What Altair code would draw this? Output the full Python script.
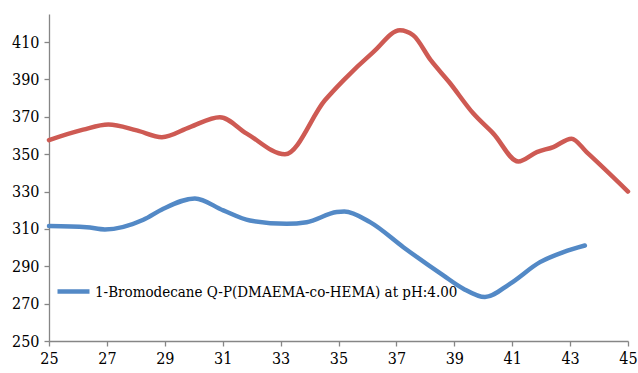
import altair as alt
import pandas as pd

blue_name = "1-Bromodecane Q-P(DMAEMA-co-HEMA) at pH:4.00"
red_name = "Series 2"

blue_x = [25.0, 26.3, 26.93, 28.26, 28.95, 30.04, 31.02, 31.94, 33.21, 33.9, 34.94, 35.2,
          36.09, 37.24, 38.62, 39.31, 40.06, 40.92, 41.96, 42.77, 43.51]
blue_y = [311.5, 310.9, 309.7, 314.9, 320.8, 326.3, 319.9, 314.5, 312.7, 313.6, 319.0, 319.3,
          313.6, 300.2, 285.1, 278.0, 273.5, 280.6, 292.2, 297.6, 301.1]

red_x = [25.0, 26.18, 27.05, 28.03, 28.9, 29.87, 30.9, 31.83, 33.15, 34.53, 35.17, 36.2,
         37.12, 37.58, 38.2, 38.82, 39.66, 40.35, 41.21, 41.85, 42.42, 43.05, 43.57, 45.0]
red_y = [357.5, 363.1, 365.8, 362.7, 359.1, 364.5, 369.8, 361.0, 349.9, 378.8, 389.5, 404.6,
         416.3, 413.6, 400.0, 388.6, 371.7, 361.0, 346.1, 351.1, 353.8, 358.3, 351.1, 330.0]

x_ticks = list(range(25, 46, 2))
y_ticks = list(range(250, 411, 20))

df = pd.concat([
    pd.DataFrame({"x": blue_x, "y": blue_y, "series": blue_name, "order": range(len(blue_x))}),
    pd.DataFrame({"x": red_x, "y": red_y, "series": red_name, "order": range(len(red_x))}),
])

SERIF = "DejaVu Serif Condensed, DejaVu Serif"

axis_common = dict(
    domainColor="#868686", tickColor="#868686", tickSize=5, grid=False,
    labelFont=SERIF, labelFontSize=16, labelColor="#000000",
    domainWidth=1.3, tickWidth=1.3,
)

chart = alt.Chart(df).mark_line(strokeWidth=4.5, interpolate="monotone", strokeCap="round").encode(
    x=alt.X("x:Q", scale=alt.Scale(domain=[25, 45], nice=False, zero=False),
            axis=alt.Axis(values=x_ticks, title=None, labelPadding=4, labelFlush=False, **axis_common)),
    y=alt.Y("y:Q", scale=alt.Scale(domain=[250, 425], nice=False, zero=False),
            axis=alt.Axis(values=y_ticks, title=None, labelPadding=5, **axis_common)),
    color=alt.Color("series:N",
                    scale=alt.Scale(domain=[blue_name, red_name], range=["#5389C6", "#CE5A53"]),
                    legend=alt.Legend(values=[blue_name], title=None, orient="none",
                                      legendX=6, legendY=259, symbolType="stroke",
                                      symbolSize=1024, symbolStrokeWidth=4.5,
                                      labelFont=SERIF, labelFontSize=15,
                                      labelColor="#000000", labelOffset=3, padding=0,
                                      labelLimit=600)),
    detail="series:N",
    order="order:Q",
).properties(
    width=579, height=327,
    autosize=alt.AutoSizeParams(type="none"),
    padding={"left": 49, "top": 14, "right": 10, "bottom": 32},
).configure_view(stroke=None)

chart.save("out.html", embed_options={"renderer": "svg", "actions": False})
